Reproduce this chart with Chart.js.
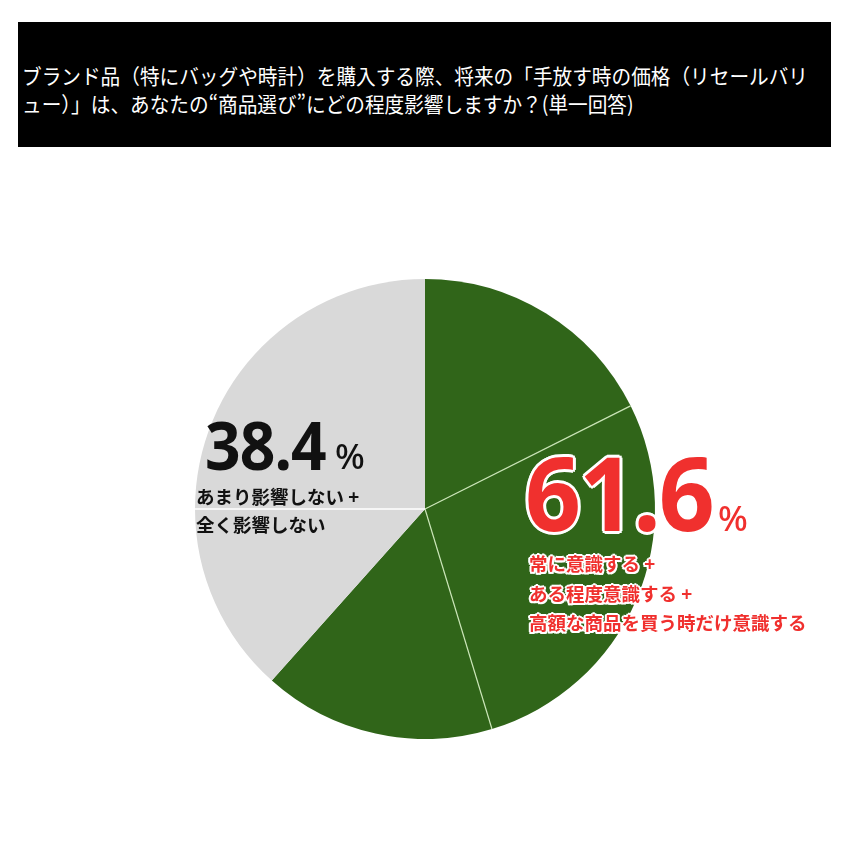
<!DOCTYPE html>
<html lang="ja">
<head>
<meta charset="utf-8">
<script src="https://cdn.jsdelivr.net/npm/chart.js@4/dist/chart.umd.min.js"></script>
<style>
  html, body { margin: 0; padding: 0; background: #fff; }
  body { width: 850px; height: 850px; position: relative; overflow: hidden; font-family: "Noto Sans CJK JP", "Noto Sans", sans-serif; }
  #titlebar { position: absolute; left: 18px; top: 22px; width: 813px; height: 125px; background: #000; }
  #titletext { position: absolute; left: 4px; top: 39px; color: #fff; font-size: 21px; line-height: 28px; white-space: nowrap; transform-origin: left top; }
  #chartbox { position: absolute; left: 0; top: 279px; width: 850px; height: 460px; }
  .abs { position: absolute; white-space: nowrap; }
  .big { font-family: "Noto Sans", sans-serif; font-weight: 700; transform-origin: left top; }
  .pct { font-family: "Noto Sans", sans-serif; font-weight: 500; }
  .sub { font-family: "Noto Sans CJK JP", sans-serif; font-weight: 700; }
  .red { color: #f0302e; text-shadow: 0 0 2px #fff, 2px 0 0 #fff, -2px 0 0 #fff, 0 2px 0 #fff, 0 -2px 0 #fff, 1.5px 1.5px 0 #fff, -1.5px 1.5px 0 #fff, 1.5px -1.5px 0 #fff, -1.5px -1.5px 0 #fff; }
  .redbig { color: #f0302e; text-shadow: 3px 0 0 #fff, -3px 0 0 #fff, 0 3px 0 #fff, 0 -3px 0 #fff, 2.2px 2.2px 0 #fff, -2.2px 2.2px 0 #fff, 2.2px -2.2px 0 #fff, -2.2px -2.2px 0 #fff; }
  .blk { color: #111; }
</style>
</head>
<body>
<div id="titlebar"><div id="titletext"></div></div>
<div id="chartbox"><canvas id="c"></canvas></div>
<div id="labels"></div>
<script>
// ---- data ----
const titleLines = [
  "ブランド品（特にバッグや時計）を購入する際、将来の「手放す時の価格（リセールバリ",
  "ュー）」は、あなたの“商品選び”にどの程度影響しますか？(単一回答)"
];
const categories = ["常に意識する", "ある程度意識する", "高額な商品を買う時だけ意識する", "あまり影響しない", "全く影響しない"];
const values = [17.6, 27.7, 16.3, 13.4, 25.0];
const groups = ["aware", "aware", "aware", "not", "not"];
const groupTotals = { aware: "61.6", not: "38.4" };
const awareLines = ["常に意識する +", "ある程度意識する +", "高額な商品を買う時だけ意識する"];
const notLines = ["あまり影響しない +", "全く影響しない"];

// ---- styles ----
const groupColor = { aware: "#306519", not: "#d9d9d9" };
const groupSep = { aware: "#c9e4b6", not: "#ffffff" };

const tt = document.getElementById("titletext");
tt.innerHTML = titleLines.map(s => "<span>" + s + "</span>").join("<br>");
// squeeze the title to the width of the reference's first line
const firstW = tt.querySelector("span").getBoundingClientRect().width;
tt.style.transform = "scaleX(" + (786 / firstW) + ")";

// separator lines between slices of the same group, from the library's arc elements
const separators = {
  id: "separators",
  afterDatasetsDraw(chart) {
    const meta = chart.getDatasetMeta(0);
    const ctx = chart.ctx;
    const n = meta.data.length;
    for (let i = 0; i < n; i++) {
      const prev = (i - 1 + n) % n;
      if (groups[i] !== groups[prev]) continue;
      const arc = meta.data[i];
      const p = arc.getProps(["x", "y", "startAngle", "outerRadius"], true);
      ctx.save();
      ctx.strokeStyle = groupSep[groups[i]];
      ctx.lineWidth = groups[i] === "not" ? 1.5 : 1.2;
      ctx.beginPath();
      ctx.moveTo(p.x, p.y);
      ctx.lineTo(p.x + Math.cos(p.startAngle) * p.outerRadius, p.y + Math.sin(p.startAngle) * p.outerRadius);
      ctx.stroke();
      ctx.restore();
    }
  }
};

new Chart(document.getElementById("c"), {
  type: "pie",
  data: {
    labels: categories,
    datasets: [{
      data: values,
      backgroundColor: groups.map(g => groupColor[g]),
      borderWidth: 0
    }]
  },
  options: {
    responsive: true,
    maintainAspectRatio: false,
    animation: false,
    layout: { padding: 0 },
    plugins: { legend: { display: false }, tooltip: { enabled: false }, title: { display: false } }
  },
  plugins: [separators]
});

// ---- text annotations ----
const L = document.getElementById("labels");
function add(html, cls, left, top, size, lh, extra) {
  const d = document.createElement("div");
  d.className = "abs " + cls;
  d.style.left = left + "px";
  d.style.top = top + "px";
  d.style.fontSize = size + "px";
  d.style.lineHeight = lh + "px";
  if (extra) Object.assign(d.style, extra);
  d.innerHTML = html;
  L.appendChild(d);
  return d;
}
// 38.4 %
add(groupTotals.not, "big blk", 205, 411, 67, 67, { transform: "scaleX(0.93)", letterSpacing: "-1px" });
add("%", "pct blk", 335, 438, 35, 36);
add(notLines.join("<br>"), "sub blk", 196, 482, 18.5, 28);
// 61.6 %
add(groupTotals.aware, "big redbig", 525, 441, 102, 102, { transform: "scaleX(0.96)", letterSpacing: "-2px" });
add("%", "pct red", 718, 500, 35, 36);
add(awareLines.join("<br>"), "sub red", 529, 549, 18.5, 29.5);
</script>
</body>
</html>
